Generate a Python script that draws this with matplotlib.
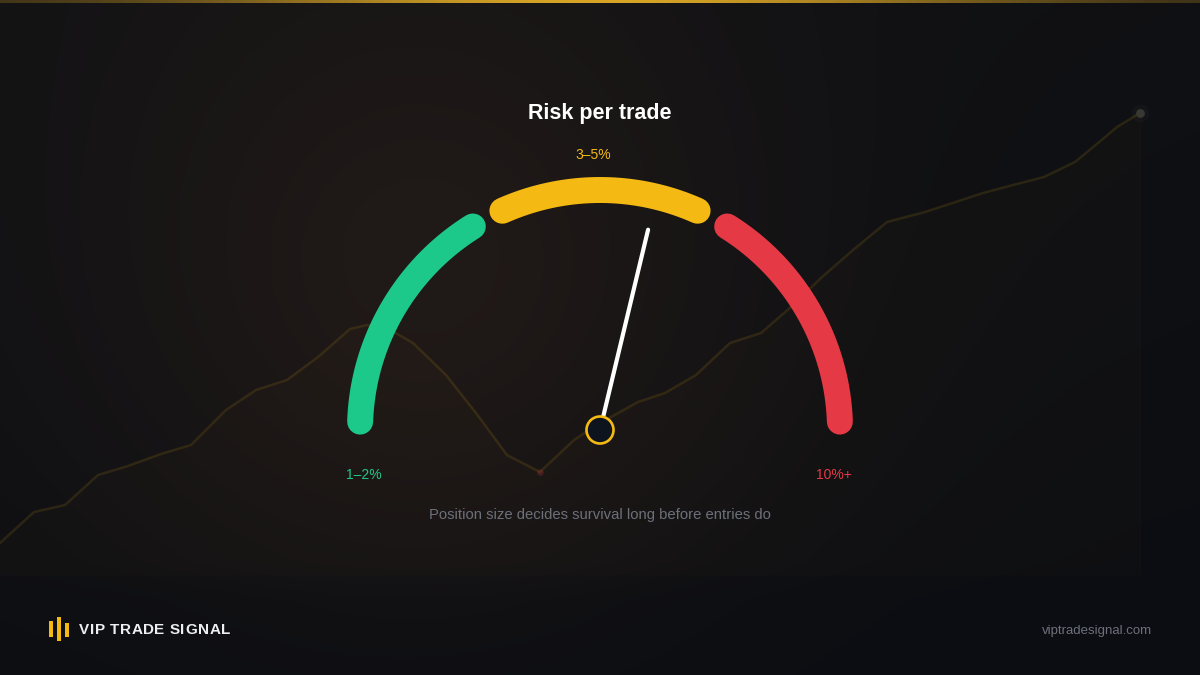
import numpy as np
import matplotlib.pyplot as plt
from matplotlib.patches import Circle, Rectangle

plt.rcParams['font.family'] = ['Liberation Sans', 'DejaVu Sans']

# background equity curve (pixel x, height above bottom edge)
curve_x = [0, 34, 65, 98, 128, 161, 191, 226, 256, 287, 318, 350, 367, 394, 413,
           446, 476, 507, 540, 574, 600, 611, 638, 665, 696, 730, 761, 791, 822,
           853, 887, 925, 983, 1013, 1044, 1075, 1098, 1117, 1140]
curve_y = [132, 163, 170, 200, 209, 221, 230, 265, 285, 295, 318, 346, 350, 343, 332,
           300, 262, 220, 203, 235, 252, 258, 273, 282, 300, 332, 342, 368, 398,
           425, 453, 463, 482, 490, 498, 513, 532, 548, 562]

# gauge bands
band_labels = ['1–2%', '3–5%', '10%+']
band_start = [178, 114, 58]
band_end = [122, 66, 2]
band_colors = ['#1dc98a', '#f5b914', '#e63946']
needle_angle = 76.5

title = 'Risk per trade'
subtitle = 'Position size decides survival long before entries do'
brand = 'VIP TRADE SIGNAL'
site = 'viptradesignal.com'

W, H = 1200, 675
fig = plt.figure(figsize=(12, 6.75), dpi=100)

# background gradient
yy, xx = np.mgrid[0:H, 0:W].astype(float)
t = np.clip(yy / H * 0.75 + xx / W * 0.35, 0, 1)[..., None]
top = np.array([0.072, 0.072, 0.08])
bot = np.array([0.045, 0.053, 0.072])
bg = top * (1 - t) + bot * t
g = np.exp(-((xx - 430) ** 2 + (yy - 290) ** 2) / (2 * 240 ** 2))[..., None]
bg = bg + np.array([0.065, 0.036, 0.016]) * g
# darker footer band
fb = np.clip((yy - 560) / 40, 0, 1)[..., None]
bg = bg * (1 - 0.25 * fb) + np.array([0.04, 0.05, 0.07]) * 0.25 * fb
bg = np.clip(bg, 0, 1)

ax_bg = fig.add_axes([0, 0, 1, 1])
ax_bg.imshow(bg, extent=[0, W, 0, H], aspect='auto', zorder=0)
ax_bg.set_xlim(0, W)
ax_bg.set_ylim(0, H)
ax_bg.axis('off')

# faint equity curve with fill
ax_bg.fill_between(curve_x, curve_y, 100, color='#c8a040', alpha=0.018, lw=0, zorder=1)
ax_bg.plot(curve_x, curve_y, color='#f5b914', alpha=0.12, lw=1.8, zorder=2)
ax_bg.plot([curve_x[-1], curve_x[-1]], [100, curve_y[-1]], color='#ffffff', alpha=0.015, lw=1, zorder=2)
low = int(np.argmin(curve_y[10:25])) + 10
ax_bg.scatter([curve_x[low]], [curve_y[low]], s=22, color='#e63946', alpha=0.22, lw=0, zorder=3)
ax_bg.scatter([curve_x[-1]], [curve_y[-1]], s=160, color='#ffffff', alpha=0.025, lw=0, zorder=3)
ax_bg.scatter([curve_x[-1]], [curve_y[-1]], s=40, color='#3a3833', lw=0, zorder=3)

# top gold accent line
grad = np.exp(-((np.linspace(0, W, 600) - 600) / 400) ** 2)
strip = np.zeros((1, 600, 4))
strip[..., 0] = 0.85
strip[..., 1] = 0.65
strip[..., 2] = 0.15
strip[..., 3] = 0.15 + 0.85 * grad
ax_bg.imshow(strip, extent=[0, W, H - 3, H], aspect='auto', zorder=4)
ax_bg.set_xlim(0, W)
ax_bg.set_ylim(0, H)

# foreground, pixel coordinates (y down)
ax = fig.add_axes([0, 0, 1, 1])
ax.set_xlim(0, W)
ax.set_ylim(H, 0)
ax.axis('off')
ax.patch.set_alpha(0)

cx, cy, r = 600, 430, 240
for a0, a1, col in zip(band_start, band_end, band_colors):
    th = np.radians(np.linspace(a0, a1, 120))
    ax.plot(cx + r * np.cos(th), cy - r * np.sin(th), color=col, lw=18.7,
            solid_capstyle='round', zorder=5)

na = np.radians(needle_angle)
ax.plot([cx + 14 * np.cos(na), cx + 206 * np.cos(na)],
        [cy - 14 * np.sin(na), cy - 206 * np.sin(na)],
        color='white', lw=3.0, solid_capstyle='round', zorder=6)
ax.add_patch(Circle((cx, cy), 13.5, facecolor='#0e141d', edgecolor='#f5b914', lw=1.9, zorder=7))

ax.text(600, 114, title, color='white', fontsize=15.5, fontweight='bold', ha='center', va='center')
ax.text(593, 155, band_labels[1], color=band_colors[1], fontsize=10, ha='center', va='center')
ax.text(364, 475, band_labels[0], color=band_colors[0], fontsize=10, ha='center', va='center')
ax.text(834, 475, band_labels[2], color=band_colors[2], fontsize=10, ha='center', va='center')
ax.text(600, 515, subtitle, color='#6c707a', fontsize=10.7, ha='center', va='center')

# footer logo
for bx, y0, y1 in [(48.5, 621, 637), (56.5, 617, 641), (64.5, 623, 637)]:
    ax.add_patch(Rectangle((bx, y0), 4.5, y1 - y0, facecolor='#f5b914', edgecolor='none', zorder=8))

# letter-spaced brand name
renderer = fig.canvas.get_renderer()
x = 79.0
for ch in brand:
    if ch == ' ':
        x += 4.5
        continue
    tx = ax.text(x, 630, ch, color='#eceef2', fontsize=11, fontweight='bold', ha='left', va='center')
    bb = tx.get_window_extent(renderer)
    x += bb.width + 0.6

ax.text(1152, 631, site, color='#6c707a', fontsize=9.5, ha='right', va='center')

fig.savefig('out.png', dpi=100)
